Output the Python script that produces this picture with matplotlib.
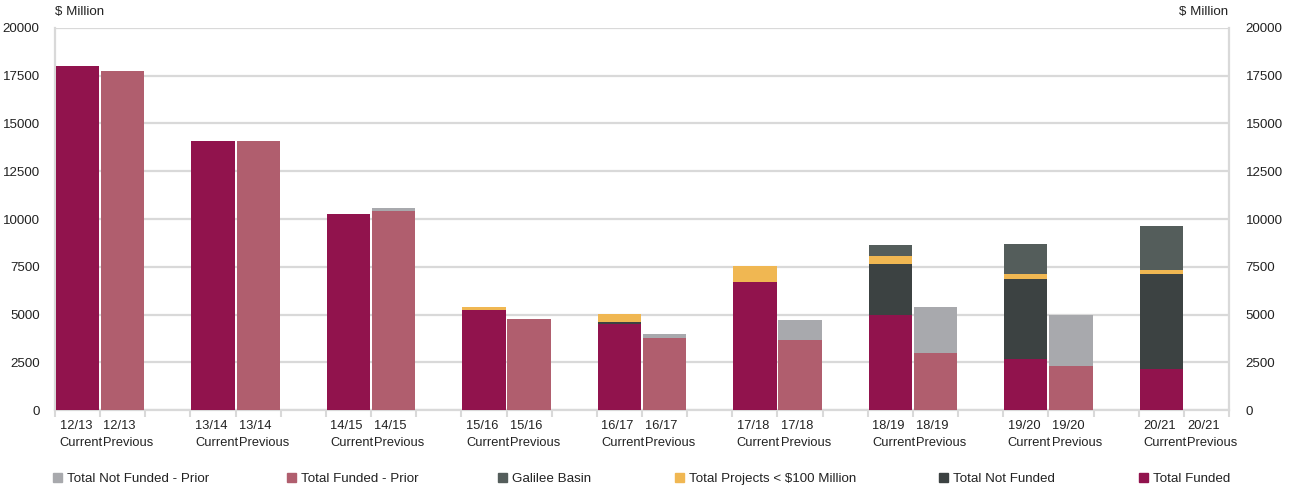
import matplotlib
matplotlib.use("Agg")
import matplotlib.pyplot as plt
from matplotlib.patches import Rectangle
from matplotlib.transforms import blended_transform_factory
import numpy as np

plt.rcParams['font.family'] = ['Liberation Sans', 'DejaVu Sans']

years = ["12/13", "13/14", "14/15", "15/16", "16/17", "17/18", "18/19", "19/20", "20/21"]

# Current year series ($ Million)
total_funded = [18000, 14100, 10250, 5230, 4520, 6700, 5000, 2650, 2130]
total_not_funded = [0, 0, 0, 0, 90, 0, 2620, 4200, 4990]
projects_lt_100m = [0, 0, 0, 160, 420, 840, 420, 260, 210]
galilee_basin = [0, 0, 0, 0, 0, 0, 580, 1570, 2300]

# Previous year series ($ Million)
total_funded_prior = [17750, 14100, 10400, 4750, 3770, 3665, 3000, 2300, 0]
total_not_funded_prior = [0, 0, 150, 0, 210, 1050, 2400, 2670, 0]

labels_current = [f"{y}\nCurrent" for y in years]
labels_previous = [f"{y}\nPrevious" for y in years]

c_funded = "#91134d"
c_funded_prior = "#b05e6e"
c_notfunded_prior = "#a8a9ad"
c_galilee = "#545d5b"
c_proj = "#f0b752"
c_notfunded = "#3c4242"

fig = plt.figure(figsize=(12.9, 4.9), dpi=100)
ax = fig.add_axes([55/1290, 1-410/490, (1229-55)/1290, (410-28)/490])

n = len(years)
cur_x = np.arange(n) * 3
prev_x = cur_x + 1
w = 0.96

b = np.zeros(n)
for vals, col in [(total_funded, c_funded), (total_not_funded, c_notfunded),
                  (projects_lt_100m, c_proj), (galilee_basin, c_galilee)]:
    v = np.array(vals, dtype=float)
    ax.bar(cur_x, v, width=w, bottom=b, color=col, zorder=3)
    b += v

b = np.zeros(n)
for vals, col in [(total_funded_prior, c_funded_prior), (total_not_funded_prior, c_notfunded_prior)]:
    v = np.array(vals, dtype=float)
    ax.bar(prev_x, v, width=w, bottom=b, color=col, zorder=3)
    b += v

ax.set_xlim(-0.5, 3 * n - 2 + 0.5)
ax.set_ylim(0, 20000)
yt = np.arange(0, 20001, 2500)
ax.set_yticks(yt)
ax.set_yticklabels([str(v) for v in yt], fontsize=9.6, color="#222222")
ax.tick_params(axis='y', length=0, pad=11)
ax.grid(axis='y', color="#d9d9d9", linewidth=1.6, zorder=0)
ax.set_axisbelow(True)

ax.set_xticks(np.arange(-0.5, 3 * n - 2 + 0.6, 1))
ax.set_xticklabels([])
ax.tick_params(axis='x', length=5, color="#d9d9d9", width=1.5)

ax.spines['top'].set_visible(False)
for s in ['left', 'right', 'bottom']:
    ax.spines[s].set_color("#d9d9d9")
    ax.spines[s].set_linewidth(1.6)

ax2 = ax.twinx()
ax2.set_ylim(0, 20000)
ax2.set_yticks(yt)
ax2.set_yticklabels([str(v) for v in yt], fontsize=9.6, color="#222222")
ax2.tick_params(axis='y', length=0, pad=12)
for s in ['top', 'left', 'bottom', 'right']:
    ax2.spines[s].set_visible(False)

trans = blended_transform_factory(ax.transData, ax.transAxes)
for x, lab in zip(cur_x, labels_current):
    ax.text(x - 0.4, -0.027, lab, transform=trans, ha='left', va='top',
            fontsize=9.3, color="#222222", linespacing=1.55)
for x, lab in zip(prev_x, labels_previous):
    ax.text(x - 0.43, -0.027, lab, transform=trans, ha='left', va='top',
            fontsize=9.3, color="#222222", linespacing=1.55)

fig.text(55/1290, 1-12/490, "$ Million", ha='left', va='center', fontsize=9.6, color="#222222")
fig.text(1228/1290, 1-12/490, "$ Million", ha='right', va='center', fontsize=9.6, color="#222222")

legend_items = [("Total Not Funded - Prior", c_notfunded_prior, 53),
                ("Total Funded - Prior", c_funded_prior, 287),
                ("Galilee Basin", c_galilee, 498),
                ("Total Projects < $100 Million", c_proj, 675),
                ("Total Not Funded", c_notfunded, 939),
                ("Total Funded", c_funded, 1139)]
ly = 479
for text, col, px in legend_items:
    fig.patches.append(Rectangle((px/1290, 1-(ly+3)/490), 9/1290, 9/490,
                                 transform=fig.transFigure, color=col, figure=fig))
    fig.text((px+14)/1290, 1-ly/490, text, ha='left', va='center', fontsize=9.6, color="#222222")

fig.savefig("out.png", dpi=100)
